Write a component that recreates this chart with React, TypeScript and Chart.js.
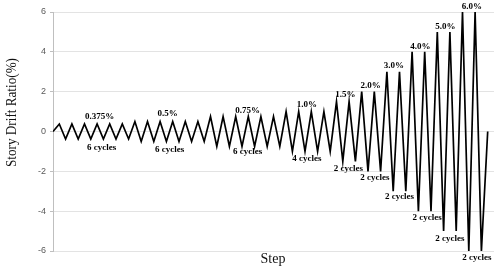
import React, { useEffect, useRef } from "react";
import { Chart, registerables } from "chart.js";

Chart.register(...registerables);

// Story drift ratio (%) at each step of the loading protocol
const drift: number[] = [
  0,
  0.375, -0.375, 0.375, -0.375, 0.375, -0.375, 0.375, -0.375, 0.375, -0.375, 0.375, -0.375,
  0.5, -0.5, 0.5, -0.5, 0.5, -0.5, 0.5, -0.5, 0.5, -0.5, 0.5, -0.5,
  0.75, -0.75, 0.75, -0.75, 0.75, -0.75, 0.75, -0.75, 0.75, -0.75, 0.75, -0.75,
  1.0, -1.0, 1.0, -1.0, 1.0, -1.0, 1.0, -1.0,
  1.5, -1.5, 1.5, -1.5,
  2.0, -2.0, 2.0, -2.0,
  3.0, -3.0, 3.0, -3.0,
  4.0, -4.0, 4.0, -4.0,
  5.0, -5.0, 5.0, -5.0,
  6.0, -6.0, 6.0, -6.0,
  0,
];
const steps: number[] = drift.map((_, i) => i);

const yTicks: number[] = [-6, -4, -2, 0, 2, 4, 6];

// Amplitude labels: text, step position, drift position
const ampLabels: string[] = ["0.375%", "0.5%", "0.75%", "1.0%", "1.5%", "2.0%", "3.0%", "4.0%", "5.0%", "6.0%"];
const ampStep: number[] = [7.4, 18.2, 30.9, 40.3, 46.4, 50.4, 54.1, 58.3, 62.3, 66.5];
const ampValue: number[] = [0.72, 0.92, 1.05, 1.33, 1.84, 2.29, 3.31, 4.27, 5.27, 6.28];

// Cycle count labels
const cycLabels: string[] = ["6 cycles", "6 cycles", "6 cycles", "4 cycles", "2 cycles", "2 cycles", "2 cycles", "2 cycles", "2 cycles", "2 cycles"];
const cycStep: number[] = [7.7, 18.5, 30.9, 40.3, 46.9, 51.1, 55.0, 59.4, 63.0, 67.3];
const cycValue: number[] = [-0.82, -0.9, -1.02, -1.38, -1.89, -2.3, -3.25, -4.34, -5.37, -6.33];

const yTitle = "Story Drift Ratio(%)";
const xTitle = "Step";

const annotationPlugin = {
  id: "annots",
  afterDraw(chart: any) {
    const { ctx, scales, chartArea } = chart;
    const xs = scales.x;
    const ys = scales.y;
    ctx.save();
    ctx.fillStyle = "#000";
    ctx.textAlign = "center";
    ctx.textBaseline = "middle";
    ctx.font = "bold 9px 'Liberation Serif', 'Times New Roman', serif";
    ampLabels.forEach((t, i) => {
      ctx.fillText(t, xs.getPixelForValue(ampStep[i]), ys.getPixelForValue(ampValue[i]));
    });
    cycLabels.forEach((t, i) => {
      ctx.fillText(t, xs.getPixelForValue(cycStep[i]), ys.getPixelForValue(cycValue[i]));
    });

    // X title
    ctx.font = "14px 'Liberation Serif', 'Times New Roman', serif";
    ctx.fillStyle = "#111";
    ctx.fillText(xTitle, (chartArea.left + chartArea.right) / 2 - 0.5, chart.height - 11.5);

    // Y title
    ctx.font = "15px 'Liberation Serif', 'Times New Roman', serif";
    const w = ctx.measureText(yTitle).width;
    const target = 109;
    ctx.translate(12.5, 112.5);
    ctx.rotate(-Math.PI / 2);
    ctx.scale(target / w, 1);
    ctx.fillText(yTitle, 0, 0);
    ctx.restore();
  },
};

export default function App() {
  const ref = useRef<HTMLCanvasElement | null>(null);
  useEffect(() => {
    document.body.style.margin = "0";
    const canvas = ref.current;
    if (!canvas) return;
    const chart = new Chart(canvas, {
      type: "line",
      data: {
        labels: steps,
        datasets: [
          {
            data: steps.map((s, i) => ({ x: s, y: drift[i] })),
            borderColor: "#000",
            borderWidth: 1.7,
            pointRadius: 0,
            tension: 0,
            fill: false,
          },
        ],
      },
      options: {
        animation: false,
        responsive: false,
        devicePixelRatio: 1,
        layout: { padding: { top: 12, bottom: 20, right: 5, left: 0 } },
        plugins: { legend: { display: false }, tooltip: { enabled: false } },
        scales: {
          x: {
            type: "linear",
            min: 0,
            max: 70,
            display: false,
          },
          y: {
            min: -6,
            max: 6,
            afterFit(scale: any) {
              scale.width = 53;
            },
            afterBuildTicks(scale: any) {
              scale.ticks = yTicks.map((v) => ({ value: v }));
            },
            ticks: {
              color: "#595959",
              padding: 4,
              font: { family: "'Liberation Sans', Arial, sans-serif", size: 9 },
            },
            grid: {
              color: "#e3e3e3",
              lineWidth: 1,
              tickLength: 3,
              tickColor: "#bfbfbf",
            },
            border: { display: true, color: "#bfbfbf", width: 1 },
          },
        },
      },
      plugins: [annotationPlugin],
    });
    return () => chart.destroy();
  }, []);
  return (
    <div style={{ width: 499, height: 271, background: "#fff" }}>
      <canvas ref={ref} width={499} height={271} style={{ display: "block" }} />
    </div>
  );
}
